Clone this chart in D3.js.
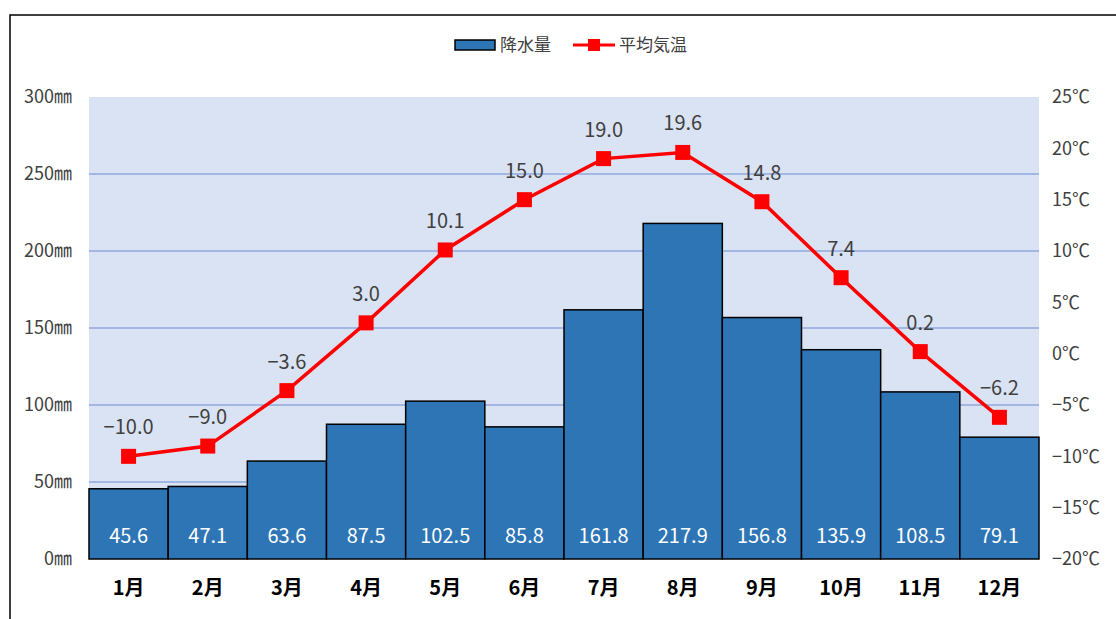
<!DOCTYPE html>
<html>
<head>
<meta charset="utf-8">
<script src="https://cdn.jsdelivr.net/npm/d3@7"></script>
<style>
  body { margin: 0; background: #fff; }
  text { font-family: "Noto Sans CJK JP", "Noto Sans", sans-serif; }
</style>
</head>
<body>
<div id="chart"></div>
<script>
// data
const months = ["1月", "2月", "3月", "4月", "5月", "6月", "7月", "8月", "9月", "10月", "11月", "12月"];
const rain = [45.6, 47.1, 63.6, 87.5, 102.5, 85.8, 161.8, 217.9, 156.8, 135.9, 108.5, 79.1];
const temp = [-10.0, -9.0, -3.6, 3.0, 10.1, 15.0, 19.0, 19.6, 14.8, 7.4, 0.2, -6.2];
const rainTicks = [0, 50, 100, 150, 200, 250, 300];
const tempTicks = [-20, -15, -10, -5, 0, 5, 10, 15, 20, 25];

const W = 1116, H = 619;
const margin = { top: 97, right: 77, bottom: 60, left: 89 };
const width = W - margin.left - margin.right;
const height = H - margin.top - margin.bottom;

const fmtMinus = (s) => s.replace("-", "−");

const svg = d3.select("#chart")
  .append("svg")
  .attr("width", W)
  .attr("height", H);

// outer frame
svg.append("rect")
  .attr("x", 10).attr("y", 15)
  .attr("width", W).attr("height", H)
  .attr("fill", "none")
  .attr("stroke", "#000")
  .attr("stroke-width", 1.5);

const g = svg.append("g").attr("transform", `translate(${margin.left},${margin.top})`);

const x = d3.scaleBand().domain(months).range([0, width]).padding(0);
const yL = d3.scaleLinear().domain([0, 300]).range([height, 0]);
const yR = d3.scaleLinear().domain([-20, 25]).range([height, 0]);

// plot background
g.append("rect")
  .attr("width", width).attr("height", height)
  .attr("fill", "#dae3f3");

// gridlines
g.append("g")
  .selectAll("line")
  .data(rainTicks.filter(d => d > 0 && d < 300))
  .join("line")
  .attr("x1", 0).attr("x2", width)
  .attr("y1", d => yL(d)).attr("y2", d => yL(d))
  .attr("stroke", "#8faadc")
  .attr("stroke-width", 1.5);

// left axis
const axL = g.append("g").call(d3.axisLeft(yL).tickValues(rainTicks).tickSize(0).tickFormat(d => d + "㎜"));
axL.select(".domain").remove();
axL.selectAll("text")
  .attr("x", -17)
  .attr("fill", "#404040")
  .style("font-size", "18px");

// right axis
const axR = g.append("g")
  .attr("transform", `translate(${width},0)`)
  .call(d3.axisRight(yR).tickValues(tempTicks).tickSize(0).tickFormat(d => fmtMinus(String(d)) + "℃"));
axR.select(".domain").remove();
axR.selectAll("text")
  .attr("x", 13)
  .attr("fill", "#404040")
  .style("font-size", "18px");

// bars
g.append("g")
  .selectAll("rect")
  .data(rain)
  .join("rect")
  .attr("x", (d, i) => x(months[i]))
  .attr("y", d => yL(d))
  .attr("width", x.bandwidth())
  .attr("height", d => yL(0) - yL(d))
  .attr("fill", "#2e75b6")
  .attr("stroke", "#000")
  .attr("stroke-width", 1.5);

// bar value labels
g.append("g")
  .selectAll("text")
  .data(rain)
  .join("text")
  .attr("x", (d, i) => x(months[i]) + x.bandwidth() / 2)
  .attr("y", height - 16)
  .attr("text-anchor", "middle")
  .attr("fill", "#fff")
  .style("font-size", "20px")
  .text(d => d.toFixed(1));

// month labels
const axB = g.append("g")
  .attr("transform", `translate(0,${height})`)
  .call(d3.axisBottom(x).tickSize(0));
axB.select(".domain").remove();
axB.selectAll("text")
  .attr("y", 22)
  .attr("fill", "#000")
  .style("font-size", "20px")
  .style("font-weight", "bold");

// temperature line
const line = d3.line()
  .x((d, i) => x(months[i]) + x.bandwidth() / 2)
  .y(d => yR(d));

g.append("path")
  .datum(temp)
  .attr("d", line)
  .attr("fill", "none")
  .attr("stroke", "#ff0000")
  .attr("stroke-width", 3.5);

const ms = 15;
g.append("g")
  .selectAll("rect")
  .data(temp)
  .join("rect")
  .attr("x", (d, i) => x(months[i]) + x.bandwidth() / 2 - ms / 2)
  .attr("y", d => yR(d) - ms / 2)
  .attr("width", ms).attr("height", ms)
  .attr("fill", "#ff0000");

g.append("g")
  .selectAll("text")
  .data(temp)
  .join("text")
  .attr("x", (d, i) => x(months[i]) + x.bandwidth() / 2)
  .attr("y", d => yR(d) - 22)
  .attr("text-anchor", "middle")
  .attr("fill", "#404040")
  .style("font-size", "20px")
  .text(d => fmtMinus(d.toFixed(1)));

// legend
const leg = svg.append("g").attr("transform", "translate(455,45)");
leg.append("rect")
  .attr("x", 0).attr("y", -5)
  .attr("width", 40).attr("height", 10)
  .attr("fill", "#2e75b6")
  .attr("stroke", "#000")
  .attr("stroke-width", 1.5);
leg.append("text")
  .attr("x", 45).attr("y", 6)
  .attr("fill", "#404040")
  .style("font-size", "17px")
  .text("降水量");
leg.append("line")
  .attr("x1", 118).attr("x2", 160)
  .attr("y1", 0).attr("y2", 0)
  .attr("stroke", "#ff0000")
  .attr("stroke-width", 3);
leg.append("rect")
  .attr("x", 133).attr("y", -6)
  .attr("width", 12).attr("height", 12)
  .attr("fill", "#ff0000");
leg.append("text")
  .attr("x", 164).attr("y", 6)
  .attr("fill", "#404040")
  .style("font-size", "17px")
  .text("平均気温");
</script>
</body>
</html>
